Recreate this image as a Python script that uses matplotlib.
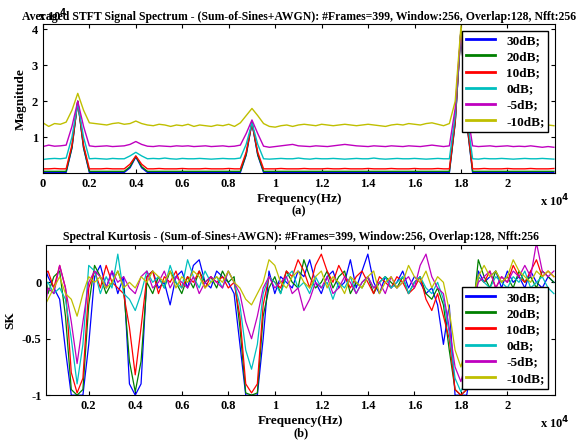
import matplotlib
matplotlib.use('Agg')
import matplotlib.pyplot as plt

FREQ = [i * 250 for i in range(89)]
LABELS = ['30dB;', '20dB;', '10dB;', '0dB;', '-5dB;', '-10dB;']
COLORS = ['#0000ff', '#008000', '#ff0000', '#00bfbf', '#bf00bf', '#bfbf00']

# averaged spectrum, units of 1e4
MAG_30 = [0.02, 0.02, 0.02, 0.02, 0.02, 0.70, 2.00, 0.70, 0.02, 0.02,
          0.02, 0.02, 0.02, 0.02, 0.02, 0.15, 0.45, 0.15, 0.02, 0.02,
          0.02, 0.02, 0.02, 0.02, 0.02, 0.02, 0.02, 0.02, 0.02, 0.02,
          0.02, 0.02, 0.02, 0.02, 0.02, 0.50, 1.40, 0.50, 0.02, 0.02,
          0.02, 0.02, 0.02, 0.02, 0.02, 0.02, 0.02, 0.02, 0.02, 0.02,
          0.02, 0.02, 0.02, 0.02, 0.02, 0.02, 0.02, 0.02, 0.02, 0.02,
          0.02, 0.02, 0.02, 0.02, 0.02, 0.02, 0.02, 0.02, 0.02, 0.02,
          0.02, 1.40, 4.00, 1.40, 0.02, 0.02, 0.02, 0.02, 0.02, 0.02,
          0.02, 0.02, 0.02, 0.02, 0.02, 0.02, 0.02, 0.02, 0.02]
MAG_20 = [0.05, 0.05, 0.05, 0.05, 0.05, 0.72, 2.00, 0.72, 0.05, 0.05,
          0.05, 0.05, 0.05, 0.05, 0.05, 0.18, 0.47, 0.18, 0.05, 0.05,
          0.05, 0.05, 0.05, 0.05, 0.05, 0.05, 0.05, 0.05, 0.05, 0.05,
          0.05, 0.05, 0.05, 0.05, 0.05, 0.52, 1.42, 0.52, 0.05, 0.05,
          0.05, 0.05, 0.05, 0.05, 0.05, 0.05, 0.05, 0.05, 0.05, 0.05,
          0.05, 0.05, 0.05, 0.05, 0.05, 0.05, 0.05, 0.05, 0.05, 0.05,
          0.05, 0.05, 0.05, 0.05, 0.05, 0.05, 0.05, 0.05, 0.05, 0.05,
          0.05, 1.42, 4.00, 1.42, 0.05, 0.05, 0.05, 0.05, 0.05, 0.05,
          0.05, 0.05, 0.05, 0.05, 0.05, 0.05, 0.05, 0.05, 0.05]
MAG_10 = [0.12, 0.12, 0.13, 0.12, 0.12, 0.78, 2.00, 0.78, 0.12, 0.12,
          0.12, 0.13, 0.12, 0.12, 0.12, 0.25, 0.48, 0.25, 0.12, 0.12,
          0.13, 0.12, 0.12, 0.12, 0.13, 0.12, 0.12, 0.12, 0.13, 0.12,
          0.12, 0.12, 0.13, 0.12, 0.12, 0.58, 1.40, 0.58, 0.12, 0.12,
          0.12, 0.13, 0.12, 0.12, 0.12, 0.13, 0.12, 0.12, 0.12, 0.13,
          0.12, 0.12, 0.13, 0.12, 0.12, 0.12, 0.13, 0.12, 0.12, 0.12,
          0.13, 0.12, 0.12, 0.12, 0.13, 0.12, 0.12, 0.12, 0.13, 0.12,
          0.12, 1.45, 4.00, 1.45, 0.12, 0.12, 0.13, 0.12, 0.12, 0.12,
          0.13, 0.12, 0.12, 0.12, 0.13, 0.12, 0.12, 0.12, 0.13]
MAG_0 = [0.38, 0.40, 0.41, 0.40, 0.42, 1.00, 1.95, 1.00, 0.40, 0.41,
         0.40, 0.39, 0.41, 0.40, 0.40, 0.48, 0.58, 0.48, 0.40, 0.41,
         0.40, 0.42, 0.40, 0.39, 0.41, 0.40, 0.40, 0.41, 0.40, 0.39,
         0.40, 0.41, 0.40, 0.40, 0.42, 0.80, 1.40, 0.80, 0.40, 0.39,
         0.40, 0.41, 0.40, 0.40, 0.42, 0.40, 0.39, 0.41, 0.40, 0.40,
         0.41, 0.40, 0.39, 0.40, 0.41, 0.40, 0.40, 0.42, 0.40, 0.39,
         0.40, 0.41, 0.40, 0.40, 0.41, 0.40, 0.39, 0.40, 0.41, 0.40,
         0.40, 1.60, 4.00, 1.60, 0.40, 0.39, 0.41, 0.40, 0.40, 0.41,
         0.40, 0.39, 0.40, 0.41, 0.40, 0.40, 0.41, 0.40, 0.39]
MAG_M5 = [0.74, 0.78, 0.75, 0.76, 0.78, 1.30, 2.00, 1.30, 0.76, 0.74,
          0.75, 0.76, 0.74, 0.75, 0.76, 0.80, 0.88, 0.80, 0.75, 0.74,
          0.76, 0.75, 0.74, 0.76, 0.75, 0.76, 0.74, 0.75, 0.76, 0.74,
          0.75, 0.76, 0.74, 0.75, 0.78, 1.10, 1.48, 1.10, 0.75, 0.72,
          0.74, 0.76, 0.78, 0.80, 0.76, 0.75, 0.74, 0.76, 0.75, 0.74,
          0.76, 0.78, 0.80, 0.78, 0.76, 0.75, 0.74, 0.76, 0.75, 0.74,
          0.76, 0.75, 0.74, 0.76, 0.75, 0.74, 0.76, 0.78, 0.76, 0.74,
          0.76, 1.80, 4.00, 1.80, 0.76, 0.74, 0.75, 0.76, 0.74, 0.75,
          0.76, 0.74, 0.75, 0.74, 0.76, 0.74, 0.72, 0.74, 0.72]
MAG_M10 = [1.40, 1.30, 1.38, 1.36, 1.42, 1.75, 2.22, 1.75, 1.40, 1.38,
           1.36, 1.34, 1.38, 1.40, 1.36, 1.38, 1.45, 1.38, 1.34, 1.32,
           1.36, 1.34, 1.30, 1.34, 1.32, 1.36, 1.30, 1.34, 1.32, 1.30,
           1.34, 1.32, 1.36, 1.30, 1.40, 1.60, 1.80, 1.60, 1.38, 1.30,
           1.28, 1.32, 1.34, 1.30, 1.34, 1.36, 1.34, 1.32, 1.36, 1.34,
           1.32, 1.34, 1.36, 1.34, 1.32, 1.34, 1.36, 1.34, 1.32, 1.30,
           1.34, 1.36, 1.34, 1.38, 1.36, 1.34, 1.38, 1.40, 1.36, 1.32,
           1.38, 2.00, 4.10, 2.00, 1.40, 1.32, 1.34, 1.32, 1.36, 1.34,
           1.32, 1.36, 1.34, 1.30, 1.34, 1.36, 1.32, 1.34, 1.32]

SK_30 = [0.20, 0.05, -0.05, -0.15, -0.60, -1.00, -1.00, -1.00, -0.55, 0.05,
         0.15, -0.05, 0.10, -0.10, 0.05, -0.90, -1.00, -0.90, 0.05, 0.10,
         -0.05, 0.00, -0.20, 0.05, 0.10, -0.05, 0.15, 0.20, 0.00, -0.05,
         0.10, 0.05, 0.00, -0.10, -0.55, -1.00, -1.00, -1.00, -0.50, 0.10,
         -0.10, 0.05, 0.00, -0.05, 0.10, 0.05, 0.20, 0.00, -0.10, 0.05,
         0.10, -0.05, 0.00, 0.20, -0.05, 0.10, 0.25, 0.00, -0.10, 0.05,
         -0.05, 0.00, 0.10, -0.05, 0.05, 0.00, -0.10, -0.05, -0.20, -0.55,
         -0.20, -1.00, -1.00, -1.00, -0.70, 0.10, 0.00, 0.05, 0.10, -0.05,
         0.10, 0.00, 0.05, -0.05, 0.10, 0.00, -0.05, 0.05, 0.00]
SK_20 = [0.30, -0.10, 0.05, 0.10, -0.30, -0.95, -1.00, -0.95, -0.20, 0.15,
         0.05, -0.10, 0.00, 0.10, -0.05, -0.70, -0.97, -0.70, 0.00, -0.10,
         0.05, -0.05, 0.10, 0.00, -0.10, 0.05, -0.05, 0.10, 0.00, 0.05,
         -0.05, 0.10, 0.00, 0.05, -0.40, -0.98, -1.00, -0.98, -0.30, -0.05,
         0.05, -0.10, 0.10, 0.00, -0.05, 0.20, 0.05, -0.05, 0.00, 0.10,
         -0.05, 0.05, 0.10, -0.10, 0.00, -0.05, 0.05, -0.10, 0.00, 0.05,
         0.00, -0.05, 0.05, -0.10, 0.00, 0.05, -0.10, -0.15, -0.05, -0.20,
         -0.60, -0.95, -1.00, -0.95, -0.30, 0.20, 0.05, -0.05, 0.10, 0.00,
         0.05, -0.05, 0.10, 0.00, 0.05, -0.05, 0.10, 0.05, 0.00]
SK_10 = [0.05, 0.10, -0.05, 0.15, -0.05, -0.80, -0.98, -0.85, -0.05, 0.10,
         -0.05, 0.15, 0.00, -0.05, -0.10, -0.40, -0.82, -0.40, 0.05, 0.10,
         -0.10, 0.05, 0.00, 0.10, -0.05, 0.05, 0.00, 0.10, -0.05, 0.05,
         0.00, 0.05, -0.05, 0.00, -0.30, -0.90, -0.98, -0.90, -0.20, 0.05,
         0.00, -0.05, 0.10, 0.05, 0.20, 0.10, -0.05, 0.15, 0.25, 0.10,
         0.00, 0.15, 0.05, -0.05, 0.05, 0.10, 0.00, -0.10, 0.05, 0.00,
         -0.05, 0.05, 0.00, -0.10, -0.05, 0.05, -0.15, -0.25, -0.10, -0.30,
         -0.50, -0.95, -1.00, -0.95, -0.40, 0.05, 0.00, 0.10, -0.05, 0.05,
         0.00, 0.15, 0.05, 0.00, 0.10, 0.20, 0.05, 0.10, 0.05]
SK_0 = [-0.05, 0.00, -0.10, -0.05, -0.15, -0.50, -0.90, -0.55, 0.15, 0.10,
        -0.10, 0.05, -0.05, 0.25, -0.10, -0.15, -0.25, -0.10, 0.10, 0.00,
        0.05, -0.05, 0.15, 0.00, -0.05, 0.20, 0.05, -0.05, 0.10, 0.00,
        0.05, -0.05, 0.10, 0.00, -0.20, -0.60, -0.77, -0.55, -0.10, 0.05,
        0.00, -0.10, 0.05, 0.10, -0.05, 0.00, -0.10, 0.05, -0.05, 0.00,
        -0.15, 0.00, -0.05, 0.05, -0.10, 0.00, 0.05, -0.05, 0.00, 0.05,
        -0.05, 0.00, 0.05, -0.10, 0.00, 0.05, -0.05, -0.10, 0.00, -0.15,
        -0.45, -0.85, -0.97, -0.85, -0.30, 0.05, 0.00, -0.05, 0.05, 0.00,
        -0.05, 0.05, 0.00, 0.10, -0.05, 0.00, 0.05, -0.05, -0.10]
SK_M5 = [-0.40, -0.05, -0.10, 0.15, -0.05, -0.35, -0.72, -0.35, 0.00, 0.10,
         0.05, -0.05, 0.10, 0.00, 0.05, -0.05, -0.10, 0.05, 0.10, -0.05,
         0.00, 0.10, -0.05, 0.05, 0.00, -0.05, 0.05, -0.10, 0.00, 0.05,
         0.00, -0.05, 0.10, 0.00, -0.10, -0.35, -0.50, -0.30, -0.05, 0.05,
         -0.05, 0.00, 0.05, -0.10, -0.05, -0.25, -0.15, 0.00, -0.05, 0.05,
         -0.10, -0.05, 0.05, 0.00, -0.10, 0.00, 0.05, -0.05, 0.00, -0.10,
         0.05, -0.05, 0.00, 0.05, -0.05, 0.15, 0.25, 0.05, -0.05, -0.10,
         -0.40, -0.75, -0.88, -0.70, -0.20, 0.00, 0.05, 0.10, -0.05, 0.05,
         0.00, 0.10, 0.05, 0.15, 0.05, 0.35, 0.10, 0.05, 0.10]
SK_M10 = [-0.25, -0.15, -0.05, 0.05, -0.10, -0.15, -0.30, -0.10, 0.05, 0.00,
          0.05, -0.05, 0.00, 0.10, -0.05, 0.00, -0.05, 0.05, 0.00, 0.10,
          0.05, 0.00, 0.10, -0.05, 0.05, 0.00, 0.10, 0.05, -0.05, 0.00,
          0.05, 0.00, 0.10, 0.00, -0.05, -0.15, -0.20, -0.10, 0.00, 0.20,
          0.15, 0.00, -0.05, 0.05, 0.10, 0.00, -0.05, 0.05, 0.10, -0.05,
          0.05, 0.00, -0.10, 0.05, 0.00, -0.05, 0.05, 0.10, -0.10, 0.00,
          0.05, -0.05, 0.00, 0.15, 0.05, 0.00, 0.10, -0.05, 0.05, 0.00,
          -0.25, -0.60, -0.75, -0.55, -0.15, 0.05, 0.15, 0.05, 0.10, 0.00,
          0.05, 0.20, 0.10, 0.05, 0.00, 0.10, 0.05, 0.10, 0.05]

MAGS = [MAG_30, MAG_20, MAG_10, MAG_0, MAG_M5, MAG_M10]
SKS = [SK_30, SK_20, SK_10, SK_0, SK_M5, SK_M10]

plt.rcParams['font.family'] = ['Liberation Serif', 'DejaVu Serif']
plt.rcParams['font.weight'] = 'bold'
plt.rcParams['mathtext.default'] = 'bf'

fig = plt.figure(figsize=(5.8, 4.44), dpi=100)
ax1 = fig.add_axes([0.074, 0.61, 0.883, 0.336])
ax2 = fig.add_axes([0.08, 0.11, 0.877, 0.338])

XTICKS = [2000 * i for i in range(11)]
XTL = ['0', '0.2', '0.4', '0.6', '0.8', '1', '1.2', '1.4', '1.6', '1.8', '2']


def style(ax, sub):
    ax.tick_params(direction='in', labelsize=9, length=3, top=True, right=True)
    ax.set_xlabel('Frequency(Hz)', fontsize=9.5, fontweight='bold', labelpad=2)
    ax.text(1.0, -0.13, r'x 10$^4$', transform=ax.transAxes, fontsize=9,
            ha='center', va='top', fontweight='bold')
    ax.text(0.5, -0.255, sub, transform=ax.transAxes, ha='center', va='center',
            fontsize=9)


def legend(ax, loc):
    leg = ax.legend(loc=loc, fontsize=9.5, handlelength=2.2, borderpad=0.3,
                    labelspacing=0.3, fancybox=False, edgecolor='black', framealpha=1)
    for ln in leg.get_lines():
        ln.set_linewidth(2)


for vals, c, lab in zip(MAGS, COLORS, LABELS):
    ax1.plot(FREQ, vals, color=c, lw=1.0, label=lab)
ax1.set_xlim(0, 22050)
ax1.set_ylim(0, 4.15)
ax1.set_yticks([1, 2, 3, 4])
ax1.set_xticks(XTICKS)
ax1.set_xticklabels(XTL)
ax1.set_ylabel('Magnitude', fontsize=9.5, fontweight='bold')
style(ax1, '(a)')
ax1.text(-0.01, 1.0, r'x 10$^4$', transform=ax1.transAxes, fontsize=9,
         ha='left', va='bottom', fontweight='bold')
ax1.set_title('Averaged STFT Signal Spectrum - (Sum-of-Sines+AWGN): #Frames=399, '
              'Window:256, Overlap:128, Nfft:256', fontsize=8.5, fontweight='bold', pad=3)
legend(ax1, 'upper right')

for vals, c, lab in zip(SKS, COLORS, LABELS):
    ax2.plot(FREQ, vals, color=c, lw=0.9, label=lab)
ax2.set_xlim(180, 22050)
ax2.set_ylim(-1, 0.33)
ax2.set_yticks([-1, -0.5, 0])
ax2.set_yticklabels(['-1', '-0.5', '0'])
ax2.set_xticks(XTICKS[1:])
ax2.set_xticklabels(XTL[1:])
ax2.set_ylabel('SK', fontsize=9.5, fontweight='bold')
style(ax2, '(b)')
ax2.set_title('Spectral Kurtosis - (Sum-of-Sines+AWGN): #Frames=399, '
              'Window:256, Overlap:128, Nfft:256', fontsize=8.5, fontweight='bold', pad=4)
legend(ax2, 'lower right')

fig.savefig('out.png', dpi=100, facecolor='white')
